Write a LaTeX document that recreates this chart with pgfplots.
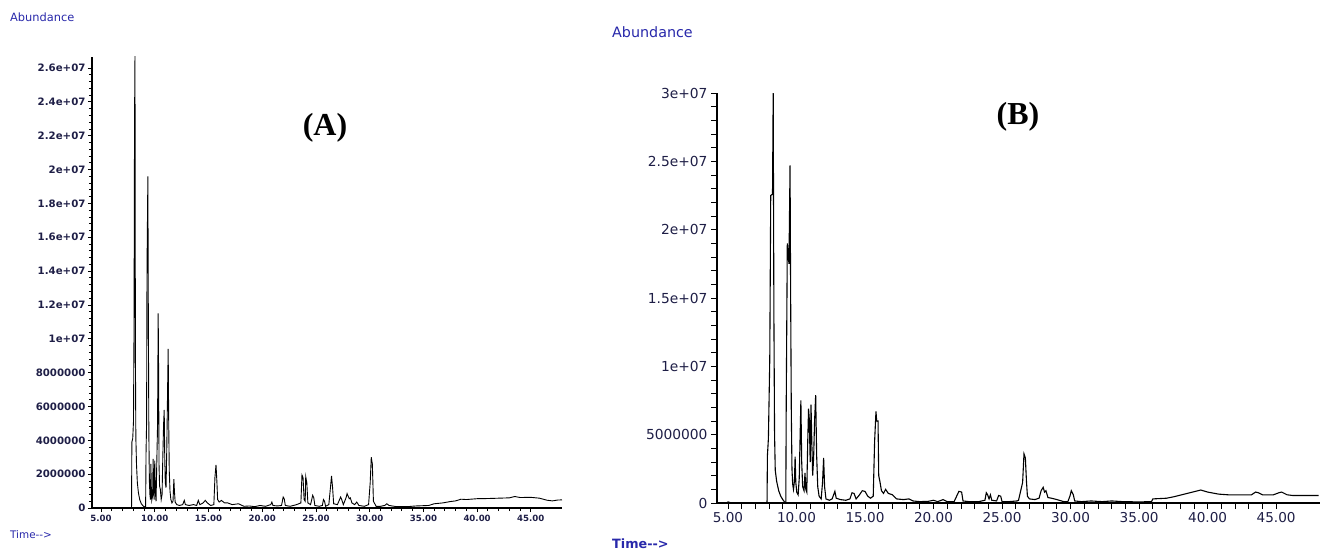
\documentclass[border=0pt]{standalone}
\usepackage{pgfplots}
\pgfplotsset{compat=1.18}
\usepackage{fontspec}
\setmainfont{DejaVu Sans}
\newfontfamily\serifbf{Liberation Serif}

\definecolor{ticktxt}{RGB}{30,30,70}
\definecolor{labblue}{RGB}{40,40,170}

% left chromatogram (A): time (min), abundance
\pgfplotstableread{
t v
4.16 0.03e6
7.84 0.03e6
7.87 3.9e6
7.95 4.1e6
8.02 5.1e6
8.07 10.4e6
8.12 23.0e6
8.16 26.7e6
8.20 9.0e6
8.24 4.2e6
8.30 2.6e6
8.38 1.5e6
8.48 0.9e6
8.60 0.5e6
8.75 0.25e6
8.95 0.1e6
9.15 0.05e6
9.19 3.3e6
9.24 5.0e6
9.28 14.2e6
9.36 19.6e6
9.40 12.0e6
9.45 4.5e6
9.50 1.6e6
9.55 0.8e6
9.60 0.5e6
9.64 2.6e6
9.68 1.2e6
9.72 0.45e6
9.80 0.7e6
9.85 2.9e6
9.90 1.0e6
9.95 0.5e6
10.00 2.8e6
10.05 1.0e6
10.12 0.4e6
10.20 3.0e6
10.26 4.9e6
10.32 11.5e6
10.36 8.0e6
10.40 2.5e6
10.45 1.3e6
10.52 1.1e6
10.60 0.5e6
10.68 0.8e6
10.75 3.0e6
10.82 4.9e6
10.88 5.8e6
10.93 3.0e6
10.98 1.5e6
11.05 1.2e6
11.12 3.5e6
11.20 7.2e6
11.25 9.4e6
11.30 5.0e6
11.35 2.2e6
11.42 1.0e6
11.50 0.5e6
11.60 0.3e6
11.70 0.4e6
11.78 1.7e6
11.83 1.0e6
11.90 0.35e6
12.05 0.2e6
12.30 0.15e6
12.60 0.2e6
12.75 0.45e6
12.85 0.2e6
13.20 0.15e6
13.60 0.2e6
13.90 0.15e6
14.05 0.45e6
14.20 0.2e6
14.50 0.3e6
14.70 0.45e6
14.90 0.3e6
15.20 0.15e6
15.50 0.2e6
15.60 1.8e6
15.70 2.55e6
15.78 1.6e6
15.85 0.5e6
16.00 0.35e6
16.20 0.45e6
16.50 0.3e6
16.80 0.3e6
17.20 0.2e6
17.80 0.25e6
18.30 0.1e6
18.80 0.12e6
19.30 0.08e6
19.80 0.15e6
20.30 0.1e6
20.80 0.2e6
20.90 0.35e6
21.00 0.15e6
21.40 0.12e6
21.80 0.15e6
21.95 0.65e6
22.05 0.55e6
22.15 0.15e6
22.60 0.1e6
23.20 0.2e6
23.60 0.3e6
23.70 1.95e6
23.80 1.8e6
23.90 0.5e6
24.00 0.4e6
24.05 1.85e6
24.15 1.5e6
24.25 0.3e6
24.50 0.2e6
24.70 0.75e6
24.80 0.6e6
24.90 0.15e6
25.30 0.1e6
25.60 0.15e6
25.70 0.5e6
25.80 0.4e6
25.90 0.1e6
26.20 0.2e6
26.35 1.2e6
26.45 1.9e6
26.55 1.2e6
26.65 0.25e6
27.00 0.2e6
27.30 0.65e6
27.40 0.5e6
27.55 0.2e6
27.80 0.6e6
27.90 0.85e6
28.00 0.7e6
28.10 0.55e6
28.20 0.6e6
28.35 0.3e6
28.60 0.2e6
28.80 0.35e6
29.00 0.15e6
29.50 0.1e6
29.90 0.2e6
30.05 1.5e6
30.15 3.0e6
30.25 2.6e6
30.35 0.4e6
30.60 0.1e6
31.00 0.1e6
31.40 0.15e6
31.60 0.25e6
31.80 0.15e6
32.50 0.08e6
33.50 0.08e6
34.30 0.12e6
35.50 0.15e6
36.00 0.25e6
36.80 0.3e6
37.50 0.38e6
38.00 0.42e6
38.50 0.52e6
39.00 0.5e6
40.00 0.55e6
41.00 0.56e6
42.00 0.58e6
43.00 0.6e6
43.50 0.68e6
44.00 0.62e6
45.00 0.63e6
45.80 0.58e6
46.50 0.46e6
47.00 0.42e6
47.50 0.47e6
47.90 0.48e6
}\dataA

% right chromatogram (B)
\pgfplotstableread{
t v
4.20 0.0
4.90 0.0
5.00 0.08e6
5.20 0.02e6
7.85 0.02e6
7.88 3.5e6
7.95 4.7e6
8.05 10.5e6
8.12 22.5e6
8.25 22.6e6
8.30 30.0e6
8.35 14.0e6
8.40 5.0e6
8.45 2.4e6
8.55 1.6e6
8.70 0.9e6
8.85 0.5e6
9.00 0.25e6
9.15 0.05e6
9.22 0.05e6
9.25 7.0e6
9.33 19.0e6
9.45 17.5e6
9.53 24.7e6
9.57 15.8e6
9.62 6.9e6
9.67 2.5e6
9.72 1.4e6
9.78 1.0e6
9.85 1.6e6
9.90 3.4e6
9.95 1.5e6
10.02 0.8e6
10.12 0.6e6
10.20 1.8e6
10.32 7.5e6
10.38 3.0e6
10.45 1.2e6
10.55 0.9e6
10.62 2.2e6
10.68 1.0e6
10.75 0.8e6
10.82 4.5e6
10.88 6.9e6
10.93 6.2e6
11.00 3.0e6
11.06 7.2e6
11.12 4.4e6
11.18 2.0e6
11.25 3.3e6
11.32 6.0e6
11.40 7.9e6
11.47 3.5e6
11.55 1.2e6
11.65 0.5e6
11.80 0.3e6
11.90 1.5e6
11.98 3.3e6
12.05 1.2e6
12.15 0.3e6
12.40 0.2e6
12.60 0.3e6
12.80 0.85e6
12.90 0.35e6
13.20 0.25e6
13.60 0.2e6
13.90 0.3e6
14.05 0.75e6
14.20 0.7e6
14.35 0.3e6
14.60 0.6e6
14.80 0.9e6
15.00 0.85e6
15.20 0.5e6
15.40 0.35e6
15.60 0.5e6
15.70 4.5e6
15.80 6.7e6
15.85 6.0e6
15.95 6.0e6
16.00 2.0e6
16.10 1.5e6
16.20 0.9e6
16.35 0.7e6
16.50 1.0e6
16.70 0.7e6
17.00 0.6e6
17.30 0.3e6
17.80 0.25e6
18.20 0.3e6
18.50 0.15e6
19.00 0.1e6
19.60 0.12e6
20.00 0.2e6
20.30 0.1e6
20.70 0.25e6
21.00 0.1e6
21.50 0.1e6
21.85 0.85e6
22.05 0.8e6
22.15 0.15e6
22.60 0.1e6
23.30 0.1e6
23.75 0.2e6
23.85 0.75e6
23.95 0.6e6
24.05 0.3e6
24.15 0.6e6
24.25 0.2e6
24.60 0.15e6
24.75 0.55e6
24.90 0.5e6
25.00 0.1e6
25.50 0.1e6
26.10 0.15e6
26.20 0.2e6
26.50 1.5e6
26.60 3.6e6
26.70 3.3e6
26.78 1.6e6
26.85 0.5e6
27.00 0.3e6
27.40 0.25e6
27.70 0.35e6
27.85 0.9e6
28.00 1.15e6
28.10 0.8e6
28.20 0.9e6
28.35 0.4e6
28.60 0.35e6
29.00 0.25e6
29.50 0.1e6
29.80 0.1e6
29.95 0.5e6
30.05 0.9e6
30.20 0.6e6
30.30 0.15e6
30.80 0.1e6
31.50 0.15e6
32.30 0.1e6
33.00 0.15e6
33.80 0.1e6
35.00 0.08e6
35.90 0.1e6
36.00 0.3e6
37.00 0.35e6
37.50 0.45e6
38.50 0.7e6
39.30 0.9e6
39.50 0.95e6
40.00 0.8e6
40.80 0.65e6
41.50 0.6e6
42.50 0.6e6
43.20 0.6e6
43.50 0.8e6
43.70 0.75e6
44.00 0.6e6
44.80 0.6e6
45.20 0.75e6
45.40 0.8e6
45.80 0.6e6
46.20 0.55e6
47.00 0.55e6
48.10 0.55e6
}\dataB

\pgfplotsset{chrom/.style={
    scale only axis,
    axis lines=left,
    axis line style={-, line width=1.3pt, black},
    tick align=outside,
    tick style={black, line width=0.8pt},
    scaled y ticks=false,
    scaled x ticks=false,
    ymin=0,
    xtick={5,10,...,45},
    xticklabels={5.00,10.00,15.00,20.00,25.00,30.00,35.00,40.00,45.00},
    minor x tick num=4,
    minor y tick num=4,
    ticklabel style={text=ticktxt},
}}

\begin{document}
\begin{tikzpicture}[x=1pt,y=1pt]
\path[use as bounding box] (0,0) rectangle (1322,552);

\begin{axis}[chrom,
    at={(92pt,44pt)}, anchor=south west,
    width=470pt, height=451pt,
    xmin=4.16, xmax=47.9, ymax=26.65e6,
    ytick={0,2e6,4e6,6e6,8e6,10e6,12e6,14e6,16e6,18e6,20e6,22e6,24e6,26e6},
    yticklabels={0,2000000,4000000,6000000,8000000,1e+07,1.2e+07,1.4e+07,1.6e+07,1.8e+07,2e+07,2.2e+07,2.4e+07,2.6e+07},
    major tick length=4pt, minor tick length=3pt,
    xticklabel style={font=\bfseries\fontsize{8.6}{10}\selectfont},
    yticklabel style={font=\bfseries\fontsize{10.2}{11}\selectfont, xshift=1pt},
]
\addplot[black, line width=0.9pt] table[x=t, y=v] {\dataA};
\end{axis}

\begin{axis}[chrom,
    at={(717pt,49pt)}, anchor=south west,
    width=603pt, height=410pt,
    xmin=4.2, xmax=48.2, ymax=30e6,
    ytick={0,5e6,10e6,15e6,20e6,25e6,30e6},
    yticklabels={0,5000000,1e+07,1.5e+07,2e+07,2.5e+07,3e+07},
    major tick length=6pt, minor tick length=6pt,
    yticklabel style={font=\fontsize{13.8}{14}\selectfont},
    xticklabel style={font=\fontsize{13.6}{14}\selectfont},
]
\addplot[black, line width=1.1pt] table[x=t, y=v] {\dataB};
\end{axis}

\node[anchor=west, text=labblue, font=\fontsize{11.4}{12}\selectfont, inner sep=0pt] at (10,535) {Abundance};
\node[anchor=west, text=labblue, font=\fontsize{10.4}{11}\selectfont, inner sep=0pt] at (10,17) {Time-{}-{}>};
\node[anchor=west, text=labblue, font=\fontsize{14.3}{15}\selectfont, inner sep=0pt] at (612,520) {Abundance};
\node[anchor=west, text=labblue, font=\bfseries\fontsize{12.8}{14}\selectfont, inner sep=0pt] at (612,8) {Time-{}-{}>};
\node[font=\serifbf\bfseries\fontsize{32}{34}\selectfont] at (325,424) {(A)};
\node[font=\serifbf\bfseries\fontsize{32}{34}\selectfont] at (1018,435) {(B)};
\end{tikzpicture}
\end{document}
